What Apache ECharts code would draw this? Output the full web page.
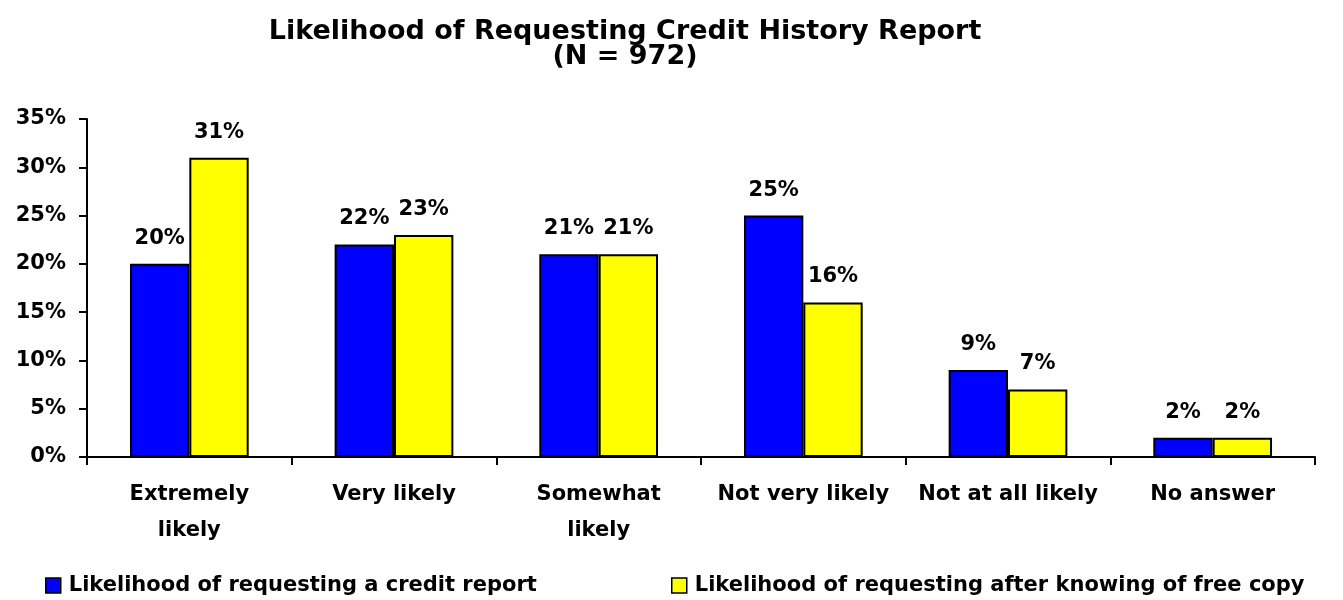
<!DOCTYPE html>
<html>
<head>
<meta charset="utf-8">
<script src="https://cdn.jsdelivr.net/npm/echarts@6/dist/echarts.min.js"></script>
<style>html,body{margin:0;padding:0;background:#fff}#c{width:1343px;height:600px}</style>
</head>
<body>
<div id="c"></div>
<script>
const categories = ['Extremely\nlikely', 'Very likely', 'Somewhat\nlikely', 'Not very likely', 'Not at all likely', 'No answer'];
const seriesNames = ['Likelihood of requesting a credit report', 'Likelihood of requesting after knowing of free copy'];
const creditReport = [20, 22, 21, 25, 9, 2];
const afterFreeCopy = [31, 23, 21, 16, 7, 2];
const yTicks = [0, 5, 10, 15, 20, 25, 30, 35];

const font = '"DejaVu Sans", sans-serif';
const chart = echarts.init(document.getElementById('c'));
const labelCfg = {show: true, position: 'top', distance: 15, formatter: p => p.value + '%', color: '#000', fontFamily: font, fontWeight: 'bold', fontSize: 21};
const legendText = {fontFamily: font, fontWeight: 'bold', fontSize: 21, color: '#000', padding: [0, 0, 0, 3]};
chart.setOption({
  animation: false,
  title: {
    text: 'Likelihood of Requesting Credit History Report\n(N = 972)',
    left: 620, top: 14, textAlign: 'center',
    textStyle: {fontFamily: font, fontWeight: 'bold', fontSize: 27, color: '#000', lineHeight: 25}
  },
  legend: [
    {data: [seriesNames[0]], left: 40, top: 570, itemWidth: 15, itemHeight: 15, icon: 'rect',
     itemStyle: {borderColor: '#000', borderWidth: 1.5}, textStyle: legendText},
    {data: [seriesNames[1]], left: 666, top: 570, itemWidth: 15, itemHeight: 15, icon: 'rect',
     itemStyle: {borderColor: '#000', borderWidth: 1.5}, textStyle: legendText}
  ],
  grid: {left: 87, right: 28, top: 119, bottom: 143, containLabel: false},
  xAxis: {
    type: 'category', data: categories,
    axisLine: {lineStyle: {color: '#000', width: 2}},
    axisTick: {show: true, length: 8, lineStyle: {color: '#000', width: 2}},
    axisLabel: {color: '#000', fontFamily: font, fontWeight: 'bold', fontSize: 21, margin: 20, lineHeight: 36, interval: 0}
  },
  yAxis: {
    type: 'value', min: 0, max: 35, interval: 5,
    axisLine: {show: true, lineStyle: {color: '#000', width: 2}},
    axisTick: {show: true, length: 8, lineStyle: {color: '#000', width: 2}},
    splitLine: {show: false},
    axisLabel: {color: '#000', fontFamily: font, fontWeight: 'bold', fontSize: 21, margin: 21,
      formatter: v => yTicks.includes(v) ? v + '%' : ''}
  },
  series: [
    {name: seriesNames[0], type: 'bar', data: creditReport, barGap: '0%', barCategoryGap: '42%',
     itemStyle: {color: '#0000FF', borderColor: '#000', borderWidth: 2}, label: labelCfg},
    {name: seriesNames[1], type: 'bar', data: afterFreeCopy,
     itemStyle: {color: '#FFFF00', borderColor: '#000', borderWidth: 2}, label: labelCfg}
  ]
});
</script>
</body>
</html>
